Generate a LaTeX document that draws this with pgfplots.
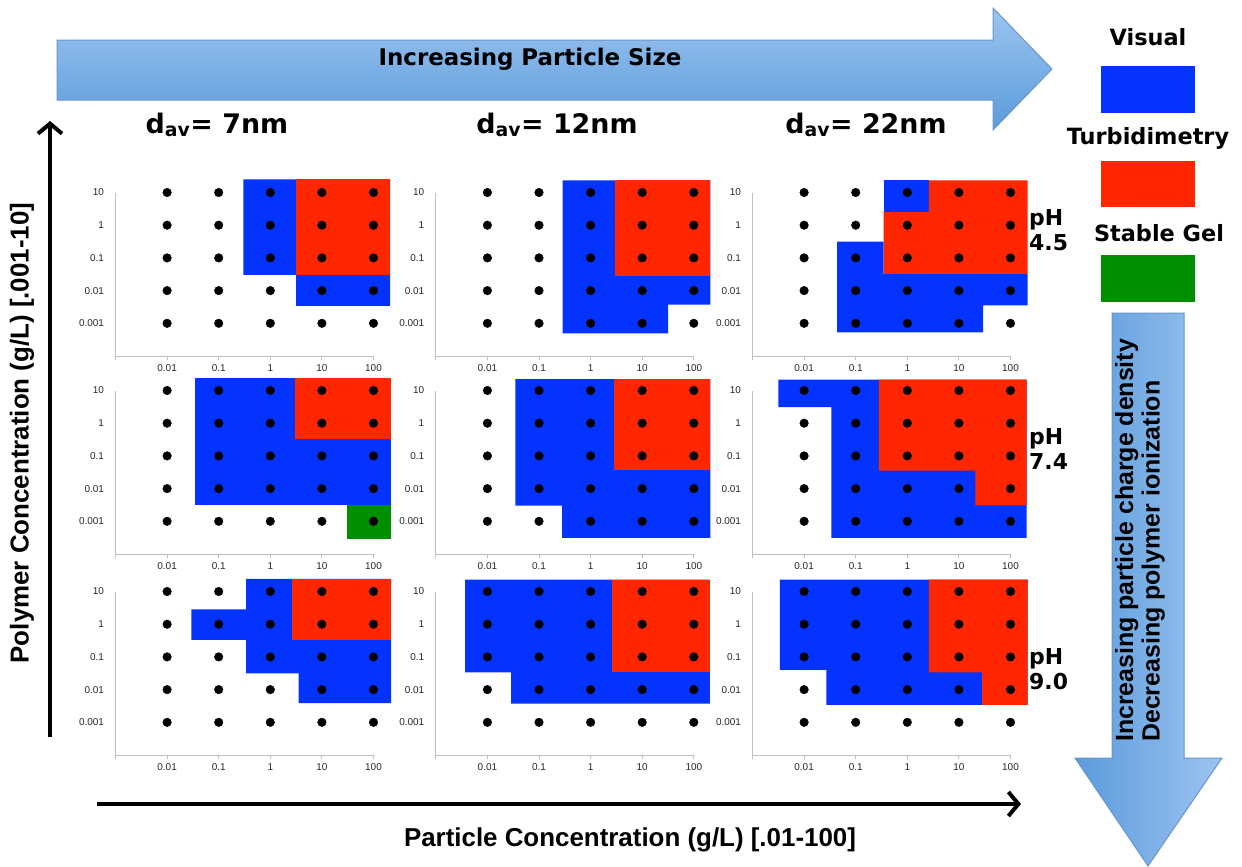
\documentclass[border=0pt]{standalone}
\usepackage{fontspec}
\setmainfont{Liberation Sans}
\newfontfamily\dvb{DejaVu Sans}
\usepackage{pgfplots}
\usepackage{pgfplotstable}
\pgfplotsset{compat=1.18}
\usetikzlibrary{arrows.meta}
\definecolor{cblue}{HTML}{0433FF}
\definecolor{cred}{HTML}{FF2600}
\definecolor{cgreen}{HTML}{008F00}
\definecolor{arrowdark}{HTML}{5B9BDB}
\definecolor{arrowlight}{HTML}{9CC4F0}
\definecolor{arrowedge}{HTML}{6A95CC}
% grid of tested samples: x = particle conc. index (0.01..100), y = polymer conc. index (0.001..10)
\pgfplotstableread{
x y
0 0
1 0
2 0
3 0
4 0
0 1
1 1
2 1
3 1
4 1
0 2
1 2
2 2
3 2
4 2
0 3
1 3
2 3
3 3
4 3
0 4
1 4
2 4
3 4
4 4
}\grid
\pgfplotsset{panel/.style={
  anchor=south west, x=51.6bp, y=32.7bp,
  xmin=-1, xmax=4, ymin=-1, ymax=4,
  clip=false, axis lines=left,
  axis line style={-, draw=black!25, line width=0.9bp},
  xtick={-1,0,1,2,3,4}, xticklabels={,0.01,0.1,1,10,100},
  ytick={0,1,2,3,4}, yticklabels={0.001,0.01,0.1,1,10},
  tick align=outside, major tick length=4bp,
  xtick style={draw=black!25, line width=0.9bp},
  ytick style={draw=none},
  ticklabel style={font=\fontsize{10}{12}\selectfont, text=black!85},
  yticklabel style={xshift=-4bp},
  xticklabel style={yshift=-1bp},
}}
\newcommand{\dotsgrid}{\addplot[only marks, mark=*, mark size=4.3bp, black] table[x=x,y=y] {\grid};}
\begin{document}
\begin{tikzpicture}[x=1bp,y=1bp]
\path[use as bounding box] (0,0) rectangle (1242,-867);
% top arrow
\shadedraw[top color=arrowlight, bottom color=arrowdark, draw=arrowedge, line width=1bp]
  (57,-40) -- (993,-40) -- (993,-8) -- (1052,-69) -- (993,-130) -- (993,-100) -- (57,-100) -- cycle;
\node[font=\dvb\bfseries\fontsize{23}{27}\selectfont] at (530,-59) {Increasing Particle Size};
% down arrow
\shadedraw[left color=arrowdark, right color=arrowlight, draw=arrowedge, line width=1bp]
  (1112,-313) -- (1184,-313) -- (1184,-758) -- (1222,-758) -- (1148,-866) -- (1075,-758) -- (1112,-758) -- cycle;
\node[rotate=90, anchor=west, align=left, inner sep=0pt, font=\bfseries\fontsize{25}{26.5}\selectfont] at (1140,-742)
  {Increasing particle charge density\\Decreasing polymer ionization};
% black axes arrows
\draw[line width=4bp, -{Straight Barb[length=10bp, width=24bp]}] (50,-737) -- (50,-121);
\draw[line width=4bp, -{Straight Barb[length=10bp, width=24bp]}] (97,-804) -- (1021,-804);
\node[rotate=90, font=\bfseries\fontsize{26}{30}\selectfont] at (22,-433) {Polymer Concentration (g/L) [.001-10]};
\node[font=\bfseries\fontsize{26}{30}\selectfont] at (630,-840) {Particle Concentration (g/L) [.01-100]};
% column headers
\node[anchor=base, font=\dvb\bfseries\fontsize{27}{30}\selectfont] at (217,-133) {d\textsubscript{av}= 7nm};
\node[anchor=base, font=\dvb\bfseries\fontsize{27}{30}\selectfont] at (557,-133) {d\textsubscript{av}= 12nm};
\node[anchor=base, font=\dvb\bfseries\fontsize{27}{30}\selectfont] at (866,-133) {d\textsubscript{av}= 22nm};
% legend
\node[font=\dvb\bfseries\fontsize{22.5}{26}\selectfont] at (1148,-37) {Visual};
\fill[cblue] (1101,-66) rectangle (1195,-113);
\node[font=\dvb\bfseries\fontsize{22.5}{26}\selectfont] at (1148,-138) {Turbidimetry};
\fill[cred] (1101,-161) rectangle (1195,-207);
\node[font=\dvb\bfseries\fontsize{22.5}{26}\selectfont] at (1159,-233) {Stable Gel};
\fill[cgreen] (1101,-255) rectangle (1195,-302);
% pH labels
\node[anchor=west, align=left, inner sep=0pt, font=\dvb\bfseries\fontsize{22}{25}\selectfont] at (1029,-230) {pH\\4.5};
\node[anchor=west, align=left, inner sep=0pt, font=\dvb\bfseries\fontsize{22}{25}\selectfont] at (1029,-449) {pH\\7.4};
\node[anchor=west, align=left, inner sep=0pt, font=\dvb\bfseries\fontsize{22}{25}\selectfont] at (1029,-669) {pH\\9.0};

% ---------- Row 1: pH 4.5 ----------
\begin{axis}[panel, at={(115.5bp,-356bp)}]
\addplot[fill=cblue, draw=none] coordinates {(1.48,4.4) (4.32,4.4) (4.32,0.53) (2.5,0.53) (2.5,1.48) (1.48,1.48)};
\addplot[fill=cred, draw=none] coordinates {(2.5,1.48) (4.32,1.48) (4.32,4.4) (2.5,4.4)};
\dotsgrid
\end{axis}
\begin{axis}[panel, at={(435.8bp,-356bp)}]
\addplot[fill=cblue, draw=none] coordinates {(1.46,4.37) (4.32,4.37) (4.32,0.57) (3.5,0.57) (3.5,-0.31) (1.46,-0.31)};
\addplot[fill=cred, draw=none] coordinates {(2.48,1.45) (4.32,1.45) (4.32,4.37) (2.48,4.37)};
\dotsgrid
\end{axis}
\begin{axis}[panel, at={(752.5bp,-356bp)}]
\addplot[fill=cblue, draw=none] coordinates {(0.64,-0.28) (3.47,-0.28) (3.47,0.55) (4.33,0.55) (4.33,1.51) (1.54,1.51) (1.54,2.5) (0.64,2.5)};
\addplot[fill=cblue, draw=none] coordinates {(1.54,3.4) (2.42,3.4) (2.42,4.37) (1.54,4.37)};
\addplot[fill=cred, draw=none] coordinates {(1.54,1.51) (4.33,1.51) (4.33,4.37) (2.42,4.37) (2.42,3.4) (1.54,3.4)};
\dotsgrid
\end{axis}

% ---------- Row 2: pH 7.4 ----------
\begin{axis}[panel, at={(115.5bp,-554bp)}]
\addplot[fill=cblue, draw=none] coordinates {(0.55,0.51) (4.34,0.51) (4.34,4.38) (0.55,4.38)};
\addplot[fill=cred, draw=none] coordinates {(2.48,2.53) (4.34,2.53) (4.34,4.38) (2.48,4.38)};
\addplot[fill=cgreen, draw=none] coordinates {(3.49,-0.53) (4.34,-0.53) (4.34,0.51) (3.49,0.51)};
\dotsgrid
\end{axis}
\begin{axis}[panel, at={(435.8bp,-554bp)}]
\addplot[fill=cblue, draw=none] coordinates {(0.54,4.35) (4.32,4.35) (4.32,-0.51) (1.45,-0.51) (1.45,0.48) (0.54,0.48)};
\addplot[fill=cred, draw=none] coordinates {(2.45,1.58) (4.32,1.58) (4.32,4.35) (2.45,4.35)};
\dotsgrid
\end{axis}
\begin{axis}[panel, at={(752.5bp,-554bp)}]
\addplot[fill=cblue, draw=none] coordinates {(-0.5,3.49) (-0.5,4.33) (4.31,4.33) (4.31,-0.51) (0.53,-0.51) (0.53,3.49)};
\addplot[fill=cred, draw=none] coordinates {(1.45,1.55) (1.45,4.33) (4.31,4.33) (4.31,0.49) (3.32,0.49) (3.32,1.55)};
\dotsgrid
\end{axis}

% ---------- Row 3: pH 9.0 ----------
\begin{axis}[panel, at={(115.5bp,-755bp)}]
\addplot[fill=cblue, draw=none] coordinates {(1.53,4.39) (4.34,4.39) (4.34,0.59) (2.55,0.59) (2.55,1.5) (1.53,1.5) (1.53,2.52) (0.47,2.52) (0.47,3.45) (1.53,3.45)};
\addplot[fill=cred, draw=none] coordinates {(2.43,2.52) (4.34,2.52) (4.34,4.39) (2.43,4.39)};
\dotsgrid
\end{axis}
\begin{axis}[panel, at={(435.8bp,-755bp)}]
\addplot[fill=cblue, draw=none] coordinates {(-0.43,1.53) (-0.43,4.36) (4.31,4.36) (4.31,0.57) (0.46,0.57) (0.46,1.53)};
\addplot[fill=cred, draw=none] coordinates {(2.42,1.53) (4.31,1.53) (4.31,4.36) (2.42,4.36)};
\dotsgrid
\end{axis}
\begin{axis}[panel, at={(752.5bp,-755bp)}]
\addplot[fill=cblue, draw=none] coordinates {(-0.47,1.6) (-0.47,4.36) (4.33,4.36) (4.33,0.53) (0.43,0.53) (0.43,1.6)};
\addplot[fill=cred, draw=none] coordinates {(2.42,1.53) (2.42,4.36) (4.33,4.36) (4.33,0.53) (3.45,0.53) (3.45,1.53)};
\dotsgrid
\end{axis}
\end{tikzpicture}
\end{document}
